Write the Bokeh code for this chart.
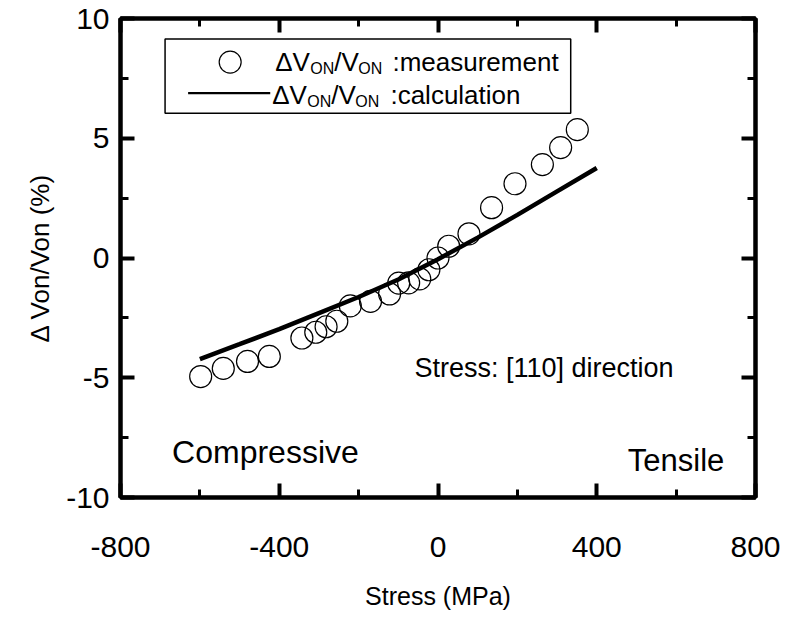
from bokeh.plotting import figure
from bokeh.models import Range1d, LinearAxis, FixedTicker, Label, CustomJSTickFormatter
from bokeh.embed import file_html
from bokeh.resources import INLINE

# measured data (Stress MPa, dVon/Von %)
meas_x = [-598, -541, -480, -425, -343, -308, -282, -255, -221, -170, -122, -99, -74, -46, -23, 0, 27, 78, 135, 194, 263, 309, 351]
meas_y = [-4.95, -4.61, -4.32, -4.11, -3.34, -3.10, -2.87, -2.64, -2.00, -1.81, -1.50, -1.05, -1.04, -0.87, -0.49, 0.0, 0.49, 1.01, 2.10, 3.10, 3.90, 4.61, 5.36]

# calculation curve
calc_x = [-600, -500, -400, -300, -200, -100, 0, 100, 200, 300, 400]
calc_y = [-4.22, -3.60, -2.97, -2.30, -1.63, -0.90, -0.05, 0.85, 1.80, 2.78, 3.76]

x_ticks = [-800, -400, 0, 400, 800]
x_minor = [-600, -200, 200, 600]
y_ticks = [-10, -5, 0, 5, 10]
y_minor = [-7.5, -2.5, 2.5, 7.5]

FONT = "Liberation Sans"

p = figure(width=786, height=619, output_backend="svg", toolbar_location=None,
           x_range=Range1d(-800, 800), y_range=Range1d(-10, 10),
           min_border_left=120, min_border_right=31, min_border_top=18, min_border_bottom=122,
           x_axis_location=None, y_axis_location=None)
p.grid.visible = False
p.outline_line_color = "black"
p.outline_line_width = 4
p.background_fill_color = "white"
p.border_fill_color = "white"


def make_axis(ticks, minor, labels=True):
    ax = LinearAxis()
    ax.ticker = FixedTicker(ticks=ticks, minor_ticks=minor)
    ax.formatter = CustomJSTickFormatter(code="return tick.toString();")
    ax.axis_line_color = "black"
    ax.axis_line_width = 4
    ax.major_tick_in = 14
    ax.major_tick_out = 0
    ax.minor_tick_in = 8
    ax.minor_tick_out = 0
    ax.major_tick_line_width = 4
    ax.minor_tick_line_width = 3
    ax.major_tick_line_color = "black"
    ax.minor_tick_line_color = "black"
    ax.major_label_text_font = FONT
    ax.major_label_text_font_size = "30px"
    ax.major_label_text_color = "black"
    ax.axis_label_text_font = FONT
    ax.axis_label_text_font_style = "normal"
    ax.axis_label_text_color = "black"
    if not labels:
        ax.major_label_text_font_size = "0px"
        ax.major_label_text_alpha = 0
    return ax


bx = make_axis(x_ticks, x_minor)
bx.major_label_standoff = 39
bx.axis_label = "Stress (MPa)"
bx.axis_label_text_font_size = "25px"
bx.axis_label_standoff = 22
p.add_layout(bx, "below")

ly = make_axis(y_ticks, y_minor)
ly.major_label_standoff = 11
ly.axis_label = "\u0394 Von/Von (%)"
ly.axis_label_text_font_size = "26px"
ly.axis_label_standoff = 8
p.add_layout(ly, "left")

tx = make_axis(x_ticks, x_minor, labels=False)
p.add_layout(tx, "above")
ry = make_axis(y_ticks, y_minor, labels=False)
p.add_layout(ry, "right")

# data
p.line(calc_x, calc_y, line_color="black", line_width=4.5)
p.scatter(meas_x, meas_y, marker="circle", size=22, fill_color=None, line_color="black", line_width=1.2)


def px2x(px):
    return (px - 437.5) / 0.39625


def py2y(py):
    return (257.5 - py) / 23.9


# annotations
p.add_layout(Label(x=px2x(172), y=py2y(469), text="Compressive", text_font=FONT, text_font_size="32px",
                   text_color="black"))
p.add_layout(Label(x=px2x(627), y=py2y(477), text="Tensile", text_font=FONT, text_font_size="31px",
                   text_color="black"))
p.add_layout(Label(x=px2x(414), y=py2y(382), text="Stress: [110] direction", text_font=FONT,
                   text_font_size="27px", text_color="black"))

# legend (hand-built for subscripts)
p.quad(left=[px2x(165)], right=[px2x(570)], top=[py2y(39)], bottom=[py2y(113)], fill_color="white",
       line_color="black", line_width=1.5)
p.scatter([px2x(230)], [py2y(62)], marker="circle", size=22, fill_color=None, line_color="black", line_width=1.2)
p.line([px2x(188), px2x(270)], [py2y(93), py2y(93)], line_color="black", line_width=2.2)


def leg_row(xs, base_py, tail):
    pieces = [("\u0394V", 26, 0), ("ON", 16, 6), ("/V", 26, 0), ("ON", 16, 6), (tail, 26, 0)]
    for (t, fs, dy), xp in zip(pieces, xs):
        p.add_layout(Label(x=px2x(xp), y=py2y(base_py + dy), text=t, text_font=FONT,
                           text_font_size=f"{fs}px", text_color="black", text_baseline="alphabetic"))


leg_row([275, 310, 334, 358, 392], 62, ":measurement")
leg_row([272, 307, 331, 355, 390], 95, ":calculation")

open("out.html", "w").write(file_html(p, INLINE))
